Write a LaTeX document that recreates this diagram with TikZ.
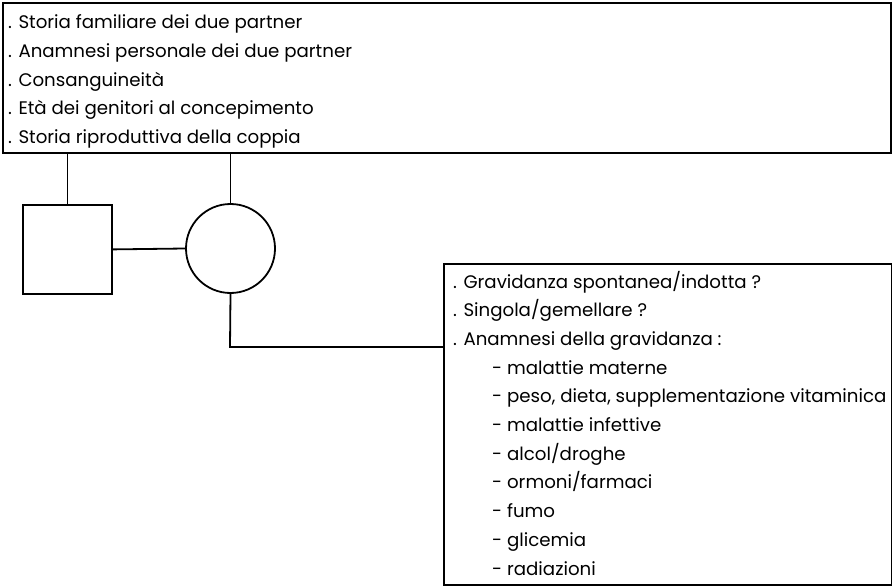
\documentclass[tikz,border=0pt]{standalone}
\usepackage{fontspec}
\setmainfont{Poppins}
\begin{document}
\begin{tikzpicture}[x=1pt,y=-1pt,
  box/.style={draw,line width=1.8pt,rectangle,inner sep=0pt,anchor=north west},
  lnk/.style={line width=1.8pt},
  txt/.style={anchor=base west,inner sep=0pt,font=\fontsize{18.2}{22}\selectfont}]
\useasboundingbox (0,0) rectangle (892,586);
\node[box,minimum width=888pt,minimum height=150pt] (top) at (2,2) {};
\node[txt] (t1) at (8,29) {. Storia familiare dei due partner};
\node[txt] (t2) at (8,57.5) {. Anamnesi personale dei due partner};
\node[txt] (t3) at (8,86) {. Consanguineità};
\node[txt] (t4) at (8,114.5) {. Età dei genitori al concepimento};
\node[txt] (t5) at (8,143) {. Storia riproduttiva della coppia};
\node[box,minimum width=89pt,minimum height=89pt] (sq) at (22,204) {};
\node[draw,line width=1.8pt,circle,minimum size=89pt,inner sep=0pt] (ci) at (230.5,248.5) {};
\node[box,minimum width=448pt,minimum height=321pt] (bot) at (443,263) {};
\coordinate (bend) at (230,347);
\draw[lnk] (top.south -| sq.north) -- (sq.north);
\draw[lnk] (top.south -| ci.north) -- (ci.north);
\draw[lnk] (sq.east) -- (ci.west);
\draw[lnk] (ci.south) -- (bend) -- (bend -| bot.west);
\node[txt] (b1) at (453,288) {. Gravidanza spontanea/indotta ?};
\node[txt] (b2) at (453,316.7) {. Singola/gemellare ?};
\node[txt] (b3) at (453,345.4) {. Anamnesi della gravidanza :};
\node[txt] (b4) at (492,374.1) {- malattie materne};
\node[txt] (b5) at (492,402.8) {- peso, dieta, supplementazione vitaminica};
\node[txt] (b6) at (492,431.5) {- malattie infettive};
\node[txt] (b7) at (492,460.2) {- alcol/droghe};
\node[txt] (b8) at (492,488.9) {- ormoni/farmaci};
\node[txt] (b9) at (492,517.6) {- fumo};
\node[txt] (b10) at (492,546.3) {- glicemia};
\node[txt] (b11) at (492,575) {- radiazioni};
\end{tikzpicture}
\end{document}
